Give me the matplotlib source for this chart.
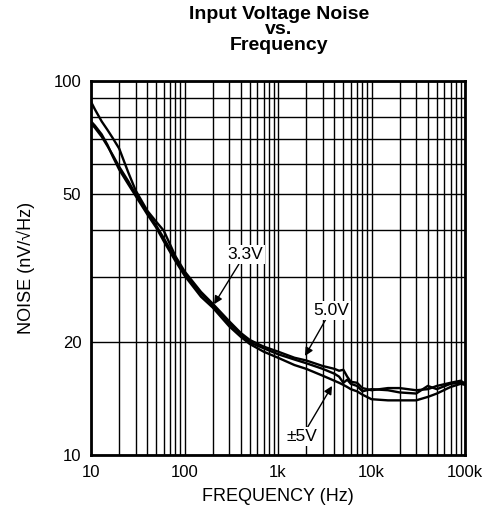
import matplotlib
matplotlib.use("Agg")
import matplotlib.pyplot as plt
from matplotlib.ticker import FixedLocator, NullFormatter, FixedFormatter

plt.rcParams['font.family'] = ['Liberation Sans', 'DejaVu Sans']

freq = [10, 11, 13, 15, 17, 20, 25, 30, 40, 50, 60, 80, 100, 150, 200, 300, 400, 500, 700,
        1000, 1500, 2000, 3000, 4000, 4500, 5000, 5500, 6000, 7000, 8000, 10000, 15000,
        20000, 30000, 40000, 50000, 70000, 90000, 100000]

noise_50 = [88, 84, 78, 74, 70.5, 66, 57, 51, 45, 42, 39.8, 34, 31, 27.3, 25.4, 22.8, 21.2,
            20.3, 19.5, 18.9, 18.2, 17.9, 17.3, 17.0, 16.8, 16.9, 16.2, 15.7, 15.6, 15.1,
            14.9, 15.1, 15.1, 14.9, 15.0, 15.3, 15.6, 15.8, 15.5]
noise_33 = [77, 75, 71, 67, 63.5, 59, 54, 49.8, 44.5, 41, 38.0, 33.5, 30.6, 27.0, 25.1, 22.5,
            21.0, 20.0, 19.3, 18.6, 18.0, 17.6, 17.0, 16.5, 16.2, 15.6, 15.9, 15.5, 15.3,
            14.8, 15.0, 14.9, 14.7, 14.6, 15.3, 15.0, 15.5, 15.6, 15.6]
noise_pm5 = [78, 76, 72, 67.5, 63, 58, 53, 49.3, 44, 40.5, 37.3, 33, 30.2, 26.5, 24.8, 22.1,
             20.7, 19.8, 18.9, 18.2, 17.4, 17.0, 16.3, 15.8, 15.6, 15.4, 15.2, 15.0, 14.8,
             14.5, 14.1, 14.0, 14.0, 14.0, 14.3, 14.6, 15.2, 15.5, 15.4]

x_ticks = [10, 100, 1000, 10000, 100000]
x_labels = ['10', '100', '1k', '10k', '100k']
y_ticks = [10, 20, 50, 100]
y_labels = ['10', '20', '50', '100']

fig = plt.figure(figsize=(4.96, 5.19), dpi=100)
ax = fig.add_axes([0.1835, 0.1233, 0.754, 0.7206])

for s in (noise_33, noise_50, noise_pm5):
    ax.plot(freq, s, color='black', lw=1.7, zorder=3)

ax.set_xscale('log')
ax.set_yscale('log')
ax.set_xlim(10, 100000)
ax.set_ylim(10, 100)

ax.xaxis.set_major_locator(FixedLocator(x_ticks))
ax.xaxis.set_major_formatter(FixedFormatter(x_labels))
xminor = [m * 10 ** d for d in range(1, 5) for m in range(2, 10)]
ax.xaxis.set_minor_locator(FixedLocator(xminor))
ax.xaxis.set_minor_formatter(NullFormatter())

ax.yaxis.set_major_locator(FixedLocator(y_ticks))
ax.yaxis.set_major_formatter(FixedFormatter(y_labels))
ax.yaxis.set_minor_locator(FixedLocator([30, 40, 60, 70, 80, 90]))
ax.yaxis.set_minor_formatter(NullFormatter())

ax.grid(True, which='both', color='black', lw=1.0, zorder=1)
ax.tick_params(which='both', length=0, labelsize=12)
ax.tick_params(axis='x', pad=7)
ax.tick_params(axis='y', pad=7)

for sp in ax.spines.values():
    sp.set_linewidth(2)

ax.set_xlabel('FREQUENCY (Hz)', fontsize=13, labelpad=6)
ax.set_ylabel('NOISE (nV/√Hz)', fontsize=13, labelpad=13)

fig.text(0.5625, 0.989, 'Input Voltage Noise\nvs.\nFrequency', ha='center', va='top',
         fontsize=14, fontweight='bold', linespacing=0.88)

bbox = dict(facecolor='white', edgecolor='none', pad=1.5)
arrow = dict(arrowstyle='-|>', color='black', lw=1.0, mutation_scale=12, shrinkA=0, shrinkB=0)
ax.annotate('3.3V', xy=(207, 25.3), xytext=(443, 34.4), fontsize=12.5, ha='center',
            va='center', bbox=bbox, arrowprops=arrow, zorder=5)
ax.annotate('5.0V', xy=(1945, 18.4), xytext=(3690, 24.4), fontsize=12.5, ha='center',
            va='center', bbox=bbox, arrowprops=arrow, zorder=5)
ax.annotate('±5V', xy=(3785, 15.3), xytext=(1807, 11.2), fontsize=12.5, ha='center',
            va='center', bbox=bbox, arrowprops=arrow, zorder=5)

fig.savefig('out.png', dpi=100)
